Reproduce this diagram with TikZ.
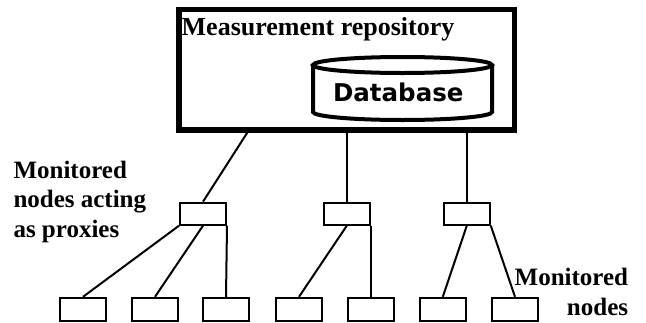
\documentclass[tikz,border=0pt]{standalone}
\usepackage{fontspec}
\setmainfont{Liberation Serif}
\newfontfamily\dbfont{DejaVu Sans}
\begin{document}
\begin{tikzpicture}[x=1pt,y=-1pt,
  conn/.style={line width=2pt},
  proxybox/.style={draw, line width=2pt, inner sep=0pt, minimum width=46pt, minimum height=22pt},
  leafbox/.style={draw, line width=2pt, inner sep=0pt, minimum width=46pt, minimum height=23pt},
  repobox/.style={draw, line width=5.5pt, inner sep=0pt, minimum width=335.3pt, minimum height=120.5pt},
  cyl/.style={line width=4pt},
  labeltext/.style={font=\bfseries\fontsize{25}{29.5}\selectfont, inner sep=0pt},
  titletext/.style={font=\bfseries\fontsize{26}{30}\selectfont, inner sep=0pt},
  dbtext/.style={font=\dbfont\bfseries\fontsize{24.5}{29}\selectfont, inner sep=0pt}]
\useasboundingbox (0,0) rectangle (646,322);
% repository
\node[repobox] (repo) at (346.85,69.75) {};
\node[titletext, anchor=base west] (title) at (181.5,35) {Measurement repository};
% database cylinder
\draw[cyl] (313,65) -- (313,112) arc[start angle=180, end angle=360, x radius=89.5pt, y radius=8pt] -- (492,65);
\draw[cyl] (402.5,65) ellipse[x radius=89.5pt, y radius=8pt];
\node[dbtext, anchor=base] (db) at (398.3,101.7) {Database};
% proxies
\node[proxybox] (p1) at (203,213.7) {};
\node[proxybox] (p2) at (346.8,213.7) {};
\node[proxybox] (p3) at (466.8,213.7) {};
% leaves
\node[leafbox] (l1) at (83,309.3) {};
\node[leafbox] (l2) at (155,309.3) {};
\node[leafbox] (l3) at (226,309.3) {};
\node[leafbox] (l4) at (299,309.3) {};
\node[leafbox] (l5) at (370.8,309.3) {};
\node[leafbox] (l6) at (442.8,309.3) {};
\node[leafbox] (l7) at (515,309.3) {};
% labels (base anchor = baseline of the last line)
\node[labeltext, anchor=base west, align=left] (lproxy) at (13.3,237.3) {Monitored\\nodes acting\\as proxies};
\node[labeltext, anchor=base east, align=right] (lmon) at (628.3,315) {Monitored\\nodes};
% connectors
\coordinate (c1) at (249,130);
\draw[conn] (p1.north) -- (c1);
\draw[conn] (p2.north) -- (p2.north |- repo.south);
\draw[conn] (p3.north) -- (p3.north |- repo.south);
\draw[conn] (p1.south west) -- (l1.north);
\draw[conn] (p1.south) -- (l2.north);
\draw[conn] (p1.south east) -- (l3.north);
\draw[conn] (p2.south) -- (l4.north);
\draw[conn] (p2.south east) -- (l5.north);
\draw[conn] (p3.south) -- (l6.north);
\draw[conn] (p3.south east) -- (l7.north);
\end{tikzpicture}
\end{document}
